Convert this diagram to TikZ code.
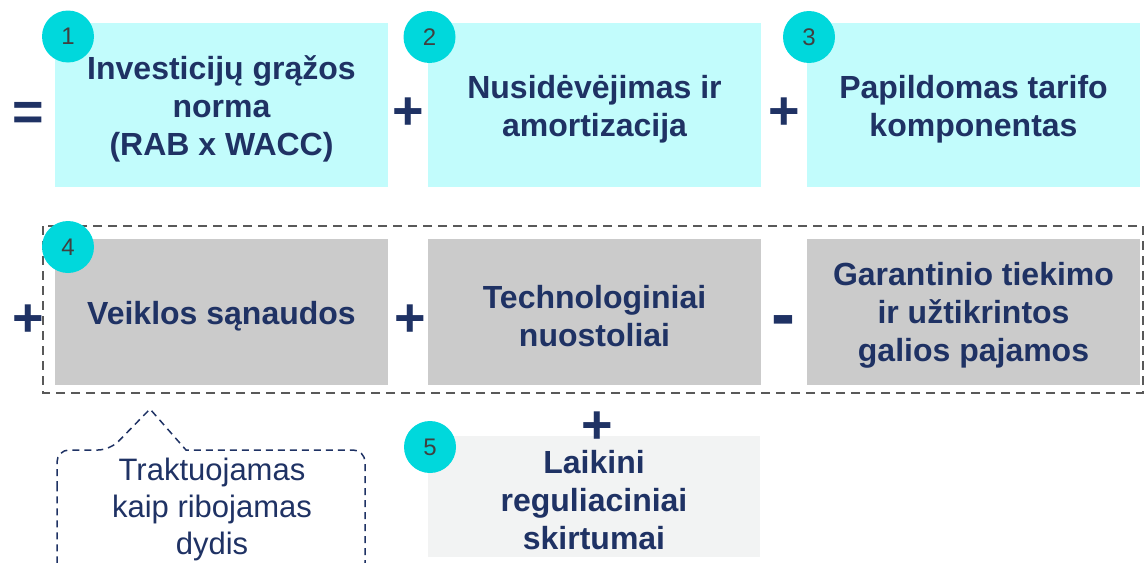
\documentclass[tikz,border=0pt]{standalone}
\usepackage{fontspec}
\setmainfont{Liberation Sans}
\definecolor{navy}{HTML}{1F3264}
\definecolor{boxcyan}{HTML}{C2FCFC}
\definecolor{boxgray}{HTML}{CBCBCB}
\definecolor{boxlight}{HTML}{F2F3F3}
\definecolor{badge}{HTML}{00D8DC}
\definecolor{digit}{HTML}{404040}
\definecolor{dashgray}{HTML}{595959}
\begin{document}
\begin{tikzpicture}[x=1pt,y=-1pt,
  box/.style={minimum width=333pt, minimum height=164pt, inner sep=0pt},
  cyanbox/.style={box, fill=boxcyan},
  graybox/.style={box, fill=boxgray, minimum height=146pt},
  lightbox/.style={box, fill=boxlight, minimum width=332pt, minimum height=121pt},
  boxtext/.style={align=center, inner sep=0pt, text=navy,
    font=\fontsize{32}{38}\selectfont\bfseries},
  num/.style={circle, fill=badge, minimum size=52pt, inner sep=0pt, text=digit,
    font=\fontsize{24}{24}\selectfont},
  op/.style={text=navy, font=\fontsize{54}{54}\selectfont\bfseries, inner sep=0pt, anchor=base},
  minusop/.style={op, font=\fontsize{72}{72}\selectfont\bfseries},
  group/.style={draw=dashgray, line width=2pt, dash pattern=on 9pt off 6pt},
  callout/.style={draw=navy, line width=1.5pt, dash pattern=on 7pt off 5pt},
  notetext/.style={text=navy, align=center, inner sep=0pt, font=\fontsize{31}{37}\selectfont}
]
\useasboundingbox (0,0) rectangle (1148,562);

% row 1
\node[cyanbox] (b1) at (221.5,105) {};
\node[cyanbox] (b2) at (594.5,105) {};
\node[cyanbox] (b3) at (973.5,105) {};
\node[boxtext] (t1) at ([yshift=-4pt]b1.center) {Investicijų grąžos\\norma\\(RAB x WACC)};
\node[boxtext] (t2) at ([yshift=-4pt]b2.center) {Nusidėvėjimas ir\\amortizacija};
\node[boxtext] (t3) at ([yshift=-4pt]b3.center) {Papildomas tarifo\\komponentas};

% row 2
\node[graybox] (b4) at (221.5,312) {};
\node[graybox] (b5) at (594.5,312) {};
\node[graybox] (b6) at (973.5,312) {};
\node[boxtext] (t4) at ([yshift=-4pt]b4.center) {Veiklos sąnaudos};
\node[boxtext] (t5) at ([yshift=-4pt]b5.center) {Technologiniai\\nuostoliai};
\node[boxtext] (t6) at ([yshift=-3pt]b6.center) {Garantinio tiekimo\\ir užtikrintos\\galios pajamos};

% row 3
\node[lightbox] (b7) at (594,496.5) {};
\node[boxtext] (t7) at ([yshift=-4pt]b7.center) {Laikini\\reguliaciniai\\skirtumai};

% dashed group
\draw[group] (43,226) rectangle (1143,393);

% badges
\node[num] (n1) at (68,36.5) {1};
\node[num] (n2) at (429.5,37) {2};
\node[num] (n3) at (809,37) {3};
\node[num] (n4) at (68,247) {4};
\node[num] (n5) at (430,447) {5};

% operators
\node[op] (eq) at (28,130) {=};
\node[op] (p1) at (408.5,129) {+};
\node[op] (p2) at (784,129) {+};
\node[op] (p3) at (28,336) {+};
\node[op] (p4) at (410,336) {+};
\node[minusop] (m1) at (783.5,338.5) {-};
\node[op] (p5) at (597,443) {+};

% callout
\draw[callout] (57,500) [rounded corners=12pt] -- (57,450) -- (110,450) [sharp corners] -- (150,409) -- (186,450) [rounded corners=12pt] -- (365,450) -- (365,575) -- (57,575) -- cycle;
\node[notetext] (note) at (212,509) {Traktuojamas\\kaip ribojamas\\dydis};
\end{tikzpicture}
\end{document}
